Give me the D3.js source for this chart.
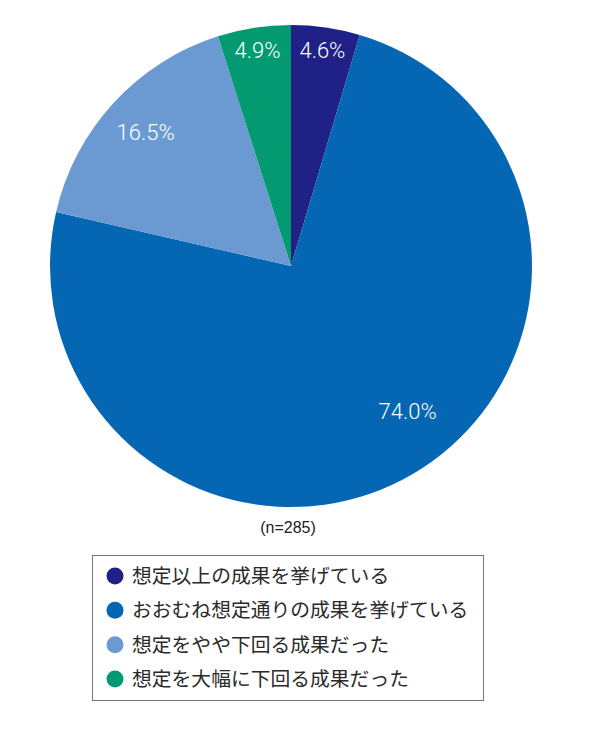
<!DOCTYPE html>
<html>
<head>
<meta charset="utf-8">
<script src="https://cdn.jsdelivr.net/npm/d3@7"></script>
<style>
  body { margin: 0; background: #fff; }
  svg { display: block; }
  .pie-label { fill: #fff; font-family: Roboto, "Noto Sans", sans-serif; font-weight: 300; font-size: 22px; }
  .note { font-family: "Liberation Sans", Arial, sans-serif; font-size: 16px; fill: #222; }
  .legend-label { font-family: "Noto Sans CJK JP", sans-serif; font-size: 19.8px; fill: #2a2a2a; }
</style>
</head>
<body>
<script>
// Chart data
var categories = [
  '想定以上の成果を挙げている',
  'おおむね想定通りの成果を挙げている',
  '想定をやや下回る成果だった',
  '想定を大幅に下回る成果だった'
];
var shares = [4.6, 74.0, 16.5, 4.9];
var colours = ['#1f2186', '#0567b4', '#6a9ad1', '#039a72'];
var sampleNote = '(n=285)';

var width = 590;
var height = 737;
var pieCenterX = 291;
var pieCenterY = 266;
var pieRadius = 241;

var svg = d3.select('body').append('svg')
  .attr('width', width)
  .attr('height', height);

var slices = shares.map(function(d, i) {
  return { name: categories[i], value: d, colour: colours[i] };
});

var pie = d3.pie()
  .value(function(d) { return d.value; })
  .sort(null);

var arc = d3.arc()
  .innerRadius(0)
  .outerRadius(pieRadius);

var pieGroup = svg.append('g')
  .attr('transform', 'translate(' + pieCenterX + ',' + pieCenterY + ')');

var arcs = pie(slices);

pieGroup.selectAll('path')
  .data(arcs)
  .enter().append('path')
  .attr('d', arc)
  .attr('fill', function(d) { return d.data.colour; });

// Labels sit further out on thin slices, nearer the middle on big ones;
// the big slice's label is nudged back toward its start like the original
var labelPosition = function labelPosition(d) {
  var mid = (d.startAngle + d.endAngle) / 2;
  var r = pieRadius * 0.905;
  if (d.data.value > 50) {
    r = pieRadius * 0.773;
    mid -= 8.5 * Math.PI / 180;
  } else if (d.data.value > 10) {
    r = pieRadius * 0.82;
  }
  return [r * Math.sin(mid), -r * Math.cos(mid)];
};

pieGroup.selectAll('text')
  .data(arcs)
  .enter().append('text')
  .classed('pie-label', true)
  .attr('transform', function(d) {
    return 'translate(' + labelPosition(d) + ')';
  })
  .attr('text-anchor', 'middle')
  .attr('dy', '0.36em')
  .text(function(d) { return d.data.value.toFixed(1) + '%'; });

svg.append('text')
  .classed('note', true)
  .attr('x', 288)
  .attr('y', 533)
  .attr('text-anchor', 'middle')
  .text(sampleNote);

// Legend box
var legendX = 92;
var legendY = 555.5;
var legendW = 391;
var legendH = 145;
var legendRow = d3.scalePoint()
  .domain(categories)
  .range([576, 679]);

svg.append('rect')
  .attr('x', legendX + 0.5)
  .attr('y', legendY)
  .attr('width', legendW)
  .attr('height', legendH)
  .attr('fill', 'none')
  .attr('stroke', '#777')
  .attr('stroke-width', 1);

var legendItem = svg.selectAll('g.legend-item')
  .data(slices)
  .enter().append('g')
  .classed('legend-item', true)
  .attr('transform', function(d) {
    return 'translate(0,' + legendRow(d.name) + ')';
  });

legendItem.append('circle')
  .attr('cx', 115)
  .attr('cy', 0)
  .attr('r', 8.5)
  .attr('fill', function(d) { return d.colour; });

legendItem.append('text')
  .classed('legend-label', true)
  .attr('x', 132)
  .attr('y', 0)
  .attr('dy', '0.36em')
  .text(function(d) { return d.name; });
</script>
</body>
</html>
